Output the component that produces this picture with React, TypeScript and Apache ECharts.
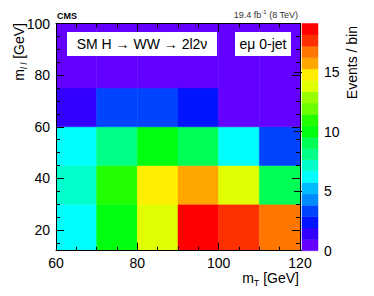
import React, { useEffect, useRef } from "react";
import * as echarts from "echarts";

// bin edges
const mtEdges = [60, 70, 80, 90, 100, 110, 120];
const mllEdges = [12, 30, 45, 60, 75, 100];

// events / bin, one array per m_ll bin (low to high), entries per m_T bin
const row12to30 = [6.5, 10.3, 13.6, 19.1, 17.6, 16.6];
const row30to45 = [7.3, 11.1, 14.9, 15.8, 13.9, 9.3];
const row45to60 = [6.3, 8.1, 10.0, 9.2, 6.4, 3.2];
const row60to75 = [1.5, 3.3, 3.4, 2.4, 0.6, 0.5];
const row75to100 = [0.4, 0.5, 0.5, 0.4, 0.3, 0.2];
const rows = [row12to30, row30to45, row45to60, row60to75, row75to100];

// colour scale
const zMin = 0;
const zMax = 19.1;
const nContours = 20;

// tick labels
const xTickLabels = [60, 80, 100, 120];
const yTickLabels = [20, 40, 60, 80, 100];
const zTickLabels = [0, 5, 10, 15];

const FONT = "Liberation Sans, Arial, Helvetica, sans-serif";

function hueToHex(h: number): string {
  const c = 1;
  const x = c * (1 - Math.abs(((h / 60) % 2) - 1));
  let r = 0, g = 0, b = 0;
  if (h < 60) { r = c; g = x; }
  else if (h < 120) { r = x; g = c; }
  else if (h < 180) { g = c; b = x; }
  else if (h < 240) { g = x; b = c; }
  else if (h < 300) { r = x; b = c; }
  else { r = c; b = x; }
  const to = (v: number) => Math.round(v * 255).toString(16).padStart(2, "0");
  return "#" + to(r) + to(g) + to(b);
}

// ROOT "pretty palette" (50 colours) sampled for 20 contours
function contourColor(k: number): string {
  const i = Math.floor(((k + 0.99) * 50) / nContours);
  if (i >= 49) return "#ff0000";
  const hue = 280 - (i + 1) * 5.6;
  return hueToHex(hue);
}

function colorForValue(z: number): string {
  const w = (zMax - zMin) / nContours;
  let k = Math.floor((z - zMin) / w);
  if (k < 0) k = 0;
  if (k > nContours - 1) k = nContours - 1;
  return contourColor(k);
}

export default function App() {
  const ref = useRef<HTMLDivElement>(null);

  useEffect(() => {
    if (!ref.current) return;
    const chart = echarts.init(ref.current, undefined, { renderer: "svg" });

    const cells: number[][] = [];
    rows.forEach((row, j) => {
      row.forEach((z, i) => {
        cells.push([mtEdges[i], mtEdges[i + 1], mllEdges[j], mllEdges[j + 1], z]);
      });
    });

    const w = (zMax - zMin) / nContours;
    const bands: number[][] = [];
    for (let k = 0; k < nContours; k++) {
      bands.push([0, 1, zMin + k * w, zMin + (k + 1) * w, k]);
    }

    const mllCats: string[] = [];
    for (let v = mllEdges[0]; v <= mllEdges[mllEdges.length - 1]; v++) mllCats.push(String(v));

    const gridTop = 23.5;
    const gridBottom = 45.3;

    const tickStyle = { color: "#000", width: 1 };

    const option: any = {
      animation: false,
      backgroundColor: "#fff",
      grid: [
        { left: 56, right: 74, top: gridTop, bottom: gridBottom, containLabel: false },
        { left: 302, width: 16, top: gridTop, bottom: gridBottom, containLabel: false },
      ],
      xAxis: [
        {
          gridIndex: 0, type: "value", position: "bottom",
          min: xTickLabels[0], max: xTickLabels[xTickLabels.length - 1], interval: 20,
          z: 10,
          axisLine: { show: true, lineStyle: tickStyle },
          axisTick: { show: true, inside: true, length: 8, lineStyle: tickStyle },
          minorTick: { show: true, splitNumber: 4, length: 4, lineStyle: tickStyle },
          axisLabel: { fontSize: 14, color: "#000", fontFamily: FONT, margin: 5 },
          splitLine: { show: false },
          minorSplitLine: { show: false },
        },
        {
          gridIndex: 0, type: "value", position: "top",
          min: xTickLabels[0], max: xTickLabels[xTickLabels.length - 1], interval: 20,
          z: 10,
          axisLine: { show: true, lineStyle: tickStyle },
          axisTick: { show: true, inside: true, length: 8, lineStyle: tickStyle },
          minorTick: { show: true, splitNumber: 4, length: 4, lineStyle: tickStyle },
          axisLabel: { show: false },
          splitLine: { show: false },
        },
        { gridIndex: 1, type: "value", min: 0, max: 1, show: false },
      ],
      yAxis: [
        {
          gridIndex: 0, type: "value", position: "left",
          min: mllEdges[0], max: mllEdges[mllEdges.length - 1],
          z: 10,
          axisLine: { show: true, lineStyle: tickStyle },
          axisTick: { show: true, inside: true, length: 8, lineStyle: tickStyle },
          axisLabel: {
            fontSize: 14, color: "#000", fontFamily: FONT, margin: 6,
            showMinLabel: false,
            formatter: (v: number) => (yTickLabels.indexOf(v) >= 0 ? String(v) : ""),
          },
          splitLine: { show: false },
        },
        {
          gridIndex: 0, type: "value", position: "right",
          min: mllEdges[0], max: mllEdges[mllEdges.length - 1],
          z: 10,
          axisLine: { show: true, lineStyle: tickStyle },
          axisTick: { show: true, inside: true, length: 8, lineStyle: tickStyle },
          axisLabel: { show: false },
          splitLine: { show: false },
        },
        {
          gridIndex: 0, type: "category", position: "left", data: mllCats, boundaryGap: false,
          z: 10,
          axisLine: { show: false },
          axisTick: {
            show: true, inside: true, length: 4, lineStyle: tickStyle,
            interval: (_i: number, v: string) => +v % 5 === 0 && +v % 20 !== 0,
          },
          axisLabel: { show: false },
          splitLine: { show: false },
        },
        {
          gridIndex: 0, type: "category", position: "right", data: mllCats, boundaryGap: false,
          z: 10,
          axisLine: { show: false },
          axisTick: {
            show: true, inside: true, length: 4, lineStyle: tickStyle,
            interval: (_i: number, v: string) => +v % 5 === 0 && +v % 20 !== 0,
          },
          axisLabel: { show: false },
          splitLine: { show: false },
        },
        {
          gridIndex: 1, type: "value", position: "right",
          min: zMin, max: zMax, interval: 5,
          z: 10,
          axisLine: { show: false },
          axisTick: { show: true, inside: true, length: 8, lineStyle: tickStyle },
          axisLabel: {
            fontSize: 14, color: "#000", fontFamily: FONT, margin: 6,
            showMaxLabel: false,
            formatter: (v: number) => (zTickLabels.indexOf(v) >= 0 ? String(v) : ""),
          },
          splitLine: { show: false },
        },
      ],
      series: [
        {
          type: "custom",
          xAxisIndex: 0,
          yAxisIndex: 0,
          data: cells,
          encode: { x: [0, 1], y: [2, 3] },
          clip: true,
          renderItem: (_p: any, api: any) => {
            const p0 = api.coord([api.value(0), api.value(2)]);
            const p1 = api.coord([api.value(1), api.value(3)]);
            const c = colorForValue(api.value(4));
            return {
              type: "rect",
              shape: { x: p0[0], y: p1[1], width: p1[0] - p0[0], height: p0[1] - p1[1] },
              style: { fill: c, stroke: c, lineWidth: 0.5 },
            };
          },
        },
        {
          type: "custom",
          xAxisIndex: 2,
          yAxisIndex: 4,
          data: bands,
          encode: { x: [0, 1], y: [2, 3] },
          renderItem: (_p: any, api: any) => {
            const p0 = api.coord([api.value(0), api.value(2)]);
            const p1 = api.coord([api.value(1), api.value(3)]);
            const c = contourColor(api.value(4));
            return {
              type: "rect",
              shape: { x: p0[0], y: p1[1], width: p1[0] - p0[0], height: p0[1] - p1[1] },
              style: { fill: c, stroke: c, lineWidth: 0.5 },
            };
          },
        },
      ],
      graphic: [
        {
          type: "text", x: 57, y: 16, z: 20,
          style: {
            text: "CMS", fontSize: 9, fontWeight: "bold", fontFamily: FONT, fill: "#000",
            align: "left", textAlign: "left", verticalAlign: "middle", textVerticalAlign: "middle",
          },
        },
        {
          type: "text", x: 298, y: 15, z: 20,
          style: {
            text: "{a|19.4 fb}{s|-1}{a| (8 TeV)}",
            fontFamily: FONT, fill: "#333",
            align: "right", textAlign: "right", verticalAlign: "middle", textVerticalAlign: "middle",
            rich: {
              a: { fontSize: 9, lineHeight: 12, fontFamily: FONT, fill: "#333" },
              s: { fontSize: 6, lineHeight: 6, verticalAlign: "top", fontFamily: FONT, fill: "#333" },
            },
          },
        },
        {
          type: "rect", z: 20,
          shape: { x: 67, y: 32, width: 150, height: 24 },
          style: { fill: "#fff" },
        },
        {
          type: "text", x: 142, y: 44, z: 21,
          style: {
            text: "SM H \u2192 WW \u2192 2l2\u03bd", fontSize: 14, fontFamily: FONT, fill: "#000",
            align: "center", textAlign: "center", verticalAlign: "middle", textVerticalAlign: "middle",
          },
        },
        {
          type: "rect", z: 20,
          shape: { x: 235, y: 32, width: 56, height: 24 },
          style: { fill: "#fff" },
        },
        {
          type: "text", x: 263, y: 44, z: 21,
          style: {
            text: "e\u03bc 0-jet", fontSize: 14, fontFamily: FONT, fill: "#000",
            align: "center", textAlign: "center", verticalAlign: "middle", textVerticalAlign: "middle",
          },
        },
        {
          type: "text", x: 299, y: 278, z: 20,
          style: {
            text: "{a|m}{s|T}{a| [GeV]}",
            fontFamily: FONT, fill: "#000",
            align: "right", textAlign: "right", verticalAlign: "middle", textVerticalAlign: "middle",
            rich: {
              a: { fontSize: 14, lineHeight: 18, fontFamily: FONT, fill: "#000" },
              s: { fontSize: 9, lineHeight: 9, verticalAlign: "bottom", fontFamily: FONT, fill: "#000" },
            },
          },
        },
        {
          type: "text", x: 19, y: 23, z: 20, rotation: Math.PI / 2,
          style: {
            text: "{a|m}{s|l l}{a| [GeV]}",
            fontFamily: FONT, fill: "#000",
            align: "right", textAlign: "right", verticalAlign: "middle", textVerticalAlign: "middle",
            rich: {
              a: { fontSize: 14, lineHeight: 18, fontFamily: FONT, fill: "#000" },
              s: { fontSize: 9, lineHeight: 9, verticalAlign: "bottom", fontStyle: "italic", fontFamily: FONT, fill: "#000" },
            },
          },
        },
        {
          type: "text", x: 352, y: 26, z: 20, rotation: Math.PI / 2,
          style: {
            text: "Events / bin", fontSize: 14, fontFamily: FONT, fill: "#000",
            align: "right", textAlign: "right", verticalAlign: "middle", textVerticalAlign: "middle",
          },
        },
      ],
    };

    chart.setOption(option);
    return () => chart.dispose();
  }, []);

  return (
    <div
      ref={ref}
      style={{ position: "fixed", left: 0, top: 0, width: 374, height: 296, background: "#fff" }}
    />
  );
}
